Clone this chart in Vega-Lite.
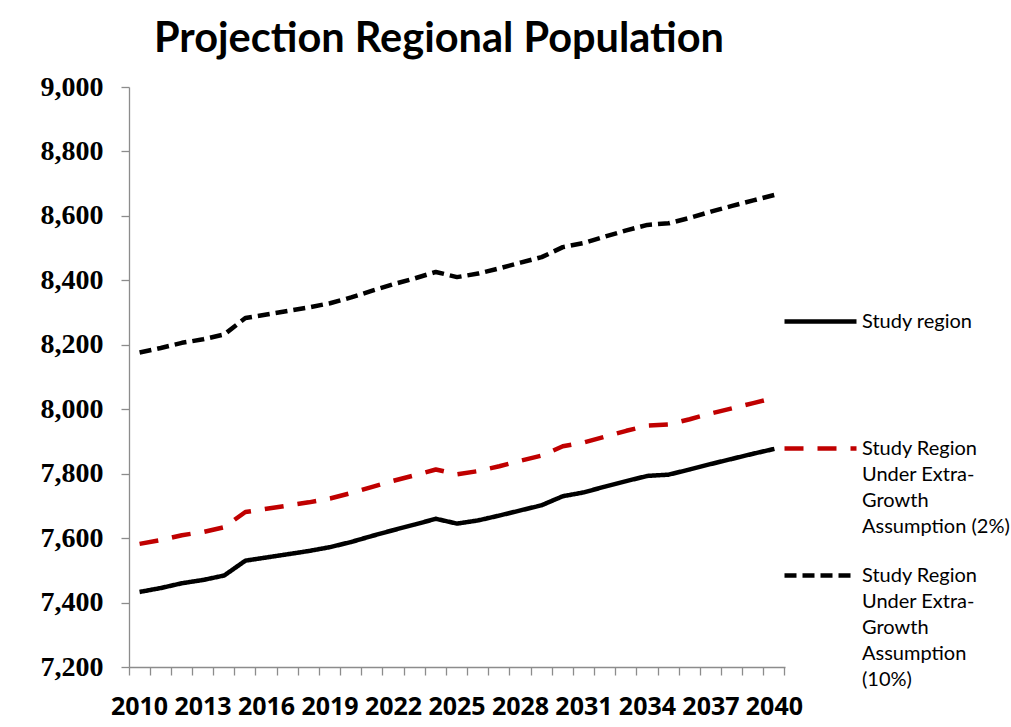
{
  "$schema": "https://vega.github.io/schema/vega-lite/v6.json",
  "width": 656,
  "height": 580,
  "padding": {"left": 40, "top": 18, "right": 10, "bottom": 5},
  "background": "white",
  "config": {"view": {"stroke": null}},
  "title": {
    "text": "Projection Regional Population",
    "font": "Lato",
    "fontSize": 41.5,
    "fontWeight": "bold",
    "color": "black",
    "frame": "group",
    "anchor": "middle",
    "dx": -18,
    "offset": 13
  },
  "data": {
    "values": [
      {"year": 2010, "series": "Study region", "pop": 7433},
      {"year": 2011, "series": "Study region", "pop": 7445},
      {"year": 2012, "series": "Study region", "pop": 7460},
      {"year": 2013, "series": "Study region", "pop": 7470},
      {"year": 2014, "series": "Study region", "pop": 7484},
      {"year": 2015, "series": "Study region", "pop": 7530},
      {"year": 2016, "series": "Study region", "pop": 7540},
      {"year": 2017, "series": "Study region", "pop": 7550},
      {"year": 2018, "series": "Study region", "pop": 7560},
      {"year": 2019, "series": "Study region", "pop": 7572},
      {"year": 2020, "series": "Study region", "pop": 7588},
      {"year": 2021, "series": "Study region", "pop": 7607},
      {"year": 2022, "series": "Study region", "pop": 7625},
      {"year": 2023, "series": "Study region", "pop": 7642},
      {"year": 2024, "series": "Study region", "pop": 7660},
      {"year": 2025, "series": "Study region", "pop": 7645},
      {"year": 2026, "series": "Study region", "pop": 7655},
      {"year": 2027, "series": "Study region", "pop": 7670},
      {"year": 2028, "series": "Study region", "pop": 7686},
      {"year": 2029, "series": "Study region", "pop": 7702},
      {"year": 2030, "series": "Study region", "pop": 7730},
      {"year": 2031, "series": "Study region", "pop": 7742},
      {"year": 2032, "series": "Study region", "pop": 7760},
      {"year": 2033, "series": "Study region", "pop": 7777},
      {"year": 2034, "series": "Study region", "pop": 7793},
      {"year": 2035, "series": "Study region", "pop": 7797},
      {"year": 2036, "series": "Study region", "pop": 7813},
      {"year": 2037, "series": "Study region", "pop": 7830},
      {"year": 2038, "series": "Study region", "pop": 7846},
      {"year": 2039, "series": "Study region", "pop": 7862},
      {"year": 2040, "series": "Study region", "pop": 7877},
      {"year": 2010, "series": "Study Region Under Extra-Growth Assumption (2%)", "pop": 7582},
      {"year": 2011, "series": "Study Region Under Extra-Growth Assumption (2%)", "pop": 7594},
      {"year": 2012, "series": "Study Region Under Extra-Growth Assumption (2%)", "pop": 7609},
      {"year": 2013, "series": "Study Region Under Extra-Growth Assumption (2%)", "pop": 7619},
      {"year": 2014, "series": "Study Region Under Extra-Growth Assumption (2%)", "pop": 7634},
      {"year": 2015, "series": "Study Region Under Extra-Growth Assumption (2%)", "pop": 7681},
      {"year": 2016, "series": "Study Region Under Extra-Growth Assumption (2%)", "pop": 7691},
      {"year": 2017, "series": "Study Region Under Extra-Growth Assumption (2%)", "pop": 7701},
      {"year": 2018, "series": "Study Region Under Extra-Growth Assumption (2%)", "pop": 7711},
      {"year": 2019, "series": "Study Region Under Extra-Growth Assumption (2%)", "pop": 7723},
      {"year": 2020, "series": "Study Region Under Extra-Growth Assumption (2%)", "pop": 7740},
      {"year": 2021, "series": "Study Region Under Extra-Growth Assumption (2%)", "pop": 7759},
      {"year": 2022, "series": "Study Region Under Extra-Growth Assumption (2%)", "pop": 7778},
      {"year": 2023, "series": "Study Region Under Extra-Growth Assumption (2%)", "pop": 7795},
      {"year": 2024, "series": "Study Region Under Extra-Growth Assumption (2%)", "pop": 7813},
      {"year": 2025, "series": "Study Region Under Extra-Growth Assumption (2%)", "pop": 7798},
      {"year": 2026, "series": "Study Region Under Extra-Growth Assumption (2%)", "pop": 7808},
      {"year": 2027, "series": "Study Region Under Extra-Growth Assumption (2%)", "pop": 7823},
      {"year": 2028, "series": "Study Region Under Extra-Growth Assumption (2%)", "pop": 7840},
      {"year": 2029, "series": "Study Region Under Extra-Growth Assumption (2%)", "pop": 7856},
      {"year": 2030, "series": "Study Region Under Extra-Growth Assumption (2%)", "pop": 7885},
      {"year": 2031, "series": "Study Region Under Extra-Growth Assumption (2%)", "pop": 7897},
      {"year": 2032, "series": "Study Region Under Extra-Growth Assumption (2%)", "pop": 7915},
      {"year": 2033, "series": "Study Region Under Extra-Growth Assumption (2%)", "pop": 7933},
      {"year": 2034, "series": "Study Region Under Extra-Growth Assumption (2%)", "pop": 7949},
      {"year": 2035, "series": "Study Region Under Extra-Growth Assumption (2%)", "pop": 7953},
      {"year": 2036, "series": "Study Region Under Extra-Growth Assumption (2%)", "pop": 7969},
      {"year": 2037, "series": "Study Region Under Extra-Growth Assumption (2%)", "pop": 7987},
      {"year": 2038, "series": "Study Region Under Extra-Growth Assumption (2%)", "pop": 8003},
      {"year": 2039, "series": "Study Region Under Extra-Growth Assumption (2%)", "pop": 8019},
      {"year": 2040, "series": "Study Region Under Extra-Growth Assumption (2%)", "pop": 8035},
      {"year": 2010, "series": "Study Region Under Extra-Growth Assumption (10%)", "pop": 8176},
      {"year": 2011, "series": "Study Region Under Extra-Growth Assumption (10%)", "pop": 8190},
      {"year": 2012, "series": "Study Region Under Extra-Growth Assumption (10%)", "pop": 8206},
      {"year": 2013, "series": "Study Region Under Extra-Growth Assumption (10%)", "pop": 8217},
      {"year": 2014, "series": "Study Region Under Extra-Growth Assumption (10%)", "pop": 8232},
      {"year": 2015, "series": "Study Region Under Extra-Growth Assumption (10%)", "pop": 8283},
      {"year": 2016, "series": "Study Region Under Extra-Growth Assumption (10%)", "pop": 8294},
      {"year": 2017, "series": "Study Region Under Extra-Growth Assumption (10%)", "pop": 8305},
      {"year": 2018, "series": "Study Region Under Extra-Growth Assumption (10%)", "pop": 8316},
      {"year": 2019, "series": "Study Region Under Extra-Growth Assumption (10%)", "pop": 8329},
      {"year": 2020, "series": "Study Region Under Extra-Growth Assumption (10%)", "pop": 8347},
      {"year": 2021, "series": "Study Region Under Extra-Growth Assumption (10%)", "pop": 8368},
      {"year": 2022, "series": "Study Region Under Extra-Growth Assumption (10%)", "pop": 8388},
      {"year": 2023, "series": "Study Region Under Extra-Growth Assumption (10%)", "pop": 8406},
      {"year": 2024, "series": "Study Region Under Extra-Growth Assumption (10%)", "pop": 8426},
      {"year": 2025, "series": "Study Region Under Extra-Growth Assumption (10%)", "pop": 8410},
      {"year": 2026, "series": "Study Region Under Extra-Growth Assumption (10%)", "pop": 8421},
      {"year": 2027, "series": "Study Region Under Extra-Growth Assumption (10%)", "pop": 8437},
      {"year": 2028, "series": "Study Region Under Extra-Growth Assumption (10%)", "pop": 8455},
      {"year": 2029, "series": "Study Region Under Extra-Growth Assumption (10%)", "pop": 8472},
      {"year": 2030, "series": "Study Region Under Extra-Growth Assumption (10%)", "pop": 8503},
      {"year": 2031, "series": "Study Region Under Extra-Growth Assumption (10%)", "pop": 8516},
      {"year": 2032, "series": "Study Region Under Extra-Growth Assumption (10%)", "pop": 8536},
      {"year": 2033, "series": "Study Region Under Extra-Growth Assumption (10%)", "pop": 8555},
      {"year": 2034, "series": "Study Region Under Extra-Growth Assumption (10%)", "pop": 8572},
      {"year": 2035, "series": "Study Region Under Extra-Growth Assumption (10%)", "pop": 8577},
      {"year": 2036, "series": "Study Region Under Extra-Growth Assumption (10%)", "pop": 8594},
      {"year": 2037, "series": "Study Region Under Extra-Growth Assumption (10%)", "pop": 8613},
      {"year": 2038, "series": "Study Region Under Extra-Growth Assumption (10%)", "pop": 8631},
      {"year": 2039, "series": "Study Region Under Extra-Growth Assumption (10%)", "pop": 8648},
      {"year": 2040, "series": "Study Region Under Extra-Growth Assumption (10%)", "pop": 8665}
    ]
  },
  "mark": {"type": "line", "strokeWidth": 4.5, "strokeCap": "butt", "strokeJoin": "round"},
  "encoding": {
    "x": {
      "field": "year",
      "type": "ordinal",
      "bandPosition": 0.5,
      "scale": {"type": "band", "paddingInner": 0, "paddingOuter": 0},
      "axis": {
        "title": null,
        "labelAngle": 0,
        "labelFont": "Open Sans",
        "labelFontSize": 25,
        "labelFontWeight": "bold",
        "labelColor": "black",
        "labelPadding": 19,
        "labelOverlap": false,
        "labelFlush": false,
        "labelOffset": 0,
        "bandPosition": 1,
        "tickExtra": true,
        "tickSize": 8,
        "tickColor": "#8c8c8c",
        "domainColor": "#8c8c8c",
        "tickWidth": 1.3,
        "domainWidth": 1.3,
        "labelExpr": "(datum.value - 2010) % 3 == 0 ? datum.label : ''"
      }
    },
    "y": {
      "field": "pop",
      "type": "quantitative",
      "scale": {"domain": [7200, 9000], "zero": false, "nice": false},
      "axis": {
        "title": null,
        "values": [7200, 7400, 7600, 7800, 8000, 8200, 8400, 8600, 8800, 9000],
        "format": ",.0f",
        "grid": false,
        "labelFont": "Liberation Serif",
        "labelFontSize": 28,
        "labelFontWeight": "bold",
        "labelColor": "black",
        "labelPadding": 18,
        "tickSize": 8,
        "tickColor": "#8c8c8c",
        "domainColor": "#8c8c8c",
        "tickWidth": 1.3,
        "domainWidth": 1.3
      }
    },
    "color": {
      "field": "series",
      "type": "nominal",
      "scale": {
        "domain": ["Study region", "Study Region Under Extra-Growth Assumption (2%)", "Study Region Under Extra-Growth Assumption (10%)"],
        "range": ["#000000", "#c00000", "#000000"]
      },
      "legend": {
        "title": null,
        "orient": "none",
        "legendX": 653,
        "legendY": 196,
        "padding": 0,
        "symbolType": "stroke",
        "symbolSize": 5184,
        "symbolStrokeWidth": 4.5,
        "labelFont": "Lato",
        "labelFontSize": 20,
        "labelColor": "black",
        "labelLimit": 0,
        "labelOffset": 3,
        "rowPadding": 0,
        "encode": {"labels": {"update": {"lineHeight": {"value": 26}}}},
        "labelExpr": "datum.value == 'Study region' ? ['Study region', '', '', ''] : (indexof(datum.value, '(2%)') >= 0 ? ['Study Region', 'Under Extra-', 'Growth', 'Assumption (2%)'] : ['Study Region', 'Under Extra-', 'Growth', 'Assumption', '(10%)'])"
      }
    },
    "strokeDash": {
      "field": "series",
      "type": "nominal",
      "scale": {
        "domain": ["Study region", "Study Region Under Extra-Growth Assumption (2%)", "Study Region Under Extra-Growth Assumption (10%)"],
        "range": [[1, 0], [19, 14], [12, 6]]
      },
      "legend": null
    }
  }
}
